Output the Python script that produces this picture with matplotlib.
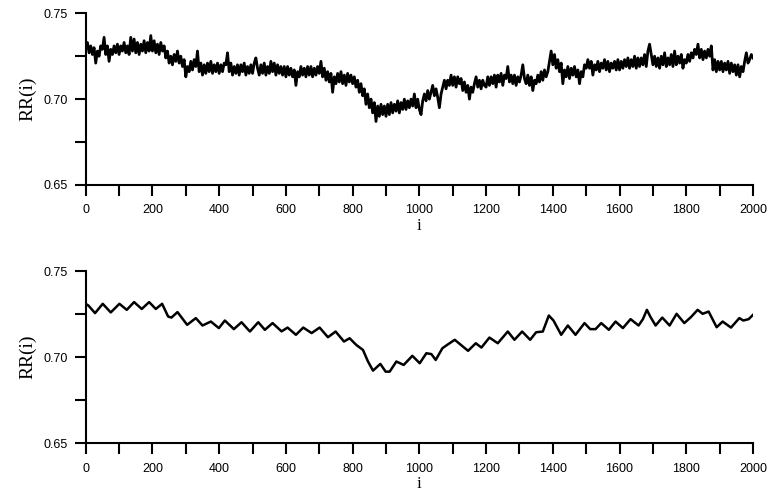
import matplotlib.pyplot as plt
from matplotlib.ticker import MultipleLocator

# Data: raw RR series read every 5 samples (top panel)
raw_rr = [
    0.731, 0.733, 0.727, 0.731, 0.726, 0.730, 0.721, 0.728, 0.725, 0.731,
    0.729, 0.736, 0.726, 0.731, 0.722, 0.729, 0.726, 0.731, 0.727, 0.732,
    0.726, 0.731, 0.728, 0.733, 0.727, 0.731, 0.726, 0.736, 0.728, 0.735,
    0.727, 0.733, 0.726, 0.732, 0.728, 0.734, 0.727, 0.733, 0.728, 0.737,
    0.728, 0.734, 0.727, 0.732, 0.726, 0.733, 0.728, 0.731, 0.724, 0.728,
    0.721, 0.725, 0.720, 0.726, 0.722, 0.728, 0.721, 0.725, 0.719, 0.723,
    0.713, 0.719, 0.716, 0.722, 0.717, 0.723, 0.719, 0.728, 0.716, 0.721,
    0.714, 0.720, 0.715, 0.721, 0.716, 0.722, 0.715, 0.720, 0.716, 0.721,
    0.715, 0.720, 0.716, 0.721, 0.720, 0.727, 0.716, 0.721, 0.714, 0.719,
    0.715, 0.720, 0.714, 0.720, 0.716, 0.721, 0.714, 0.719, 0.715, 0.720,
    0.715, 0.721, 0.724, 0.718, 0.714, 0.720, 0.715, 0.721, 0.714, 0.719,
    0.715, 0.722, 0.716, 0.721, 0.714, 0.720, 0.715, 0.719, 0.714, 0.719,
    0.713, 0.719, 0.714, 0.718, 0.713, 0.717, 0.708, 0.716, 0.713, 0.719,
    0.714, 0.718, 0.713, 0.719, 0.714, 0.719, 0.713, 0.718, 0.714, 0.719,
    0.715, 0.722, 0.713, 0.718, 0.711, 0.716, 0.710, 0.715, 0.704, 0.713,
    0.709, 0.715, 0.710, 0.716, 0.709, 0.714, 0.708, 0.715, 0.710, 0.714,
    0.709, 0.713, 0.707, 0.711, 0.704, 0.709, 0.702, 0.706, 0.697, 0.703,
    0.695, 0.700, 0.692, 0.698, 0.687, 0.696, 0.690, 0.697, 0.691, 0.696,
    0.690, 0.697, 0.691, 0.698, 0.692, 0.697, 0.693, 0.699, 0.692, 0.698,
    0.694, 0.700, 0.694, 0.699, 0.695, 0.700, 0.696, 0.703, 0.695, 0.700,
    0.694, 0.691, 0.699, 0.703, 0.699, 0.705, 0.700, 0.704, 0.708, 0.702,
    0.706, 0.701, 0.695, 0.703, 0.707, 0.711, 0.706, 0.711, 0.708, 0.714,
    0.708, 0.713, 0.707, 0.713, 0.709, 0.712, 0.705, 0.710, 0.704, 0.708,
    0.700, 0.707, 0.704, 0.709, 0.713, 0.707, 0.711, 0.706, 0.711, 0.708,
    0.707, 0.713, 0.708, 0.713, 0.709, 0.714, 0.707, 0.714, 0.710, 0.715,
    0.708, 0.714, 0.712, 0.719, 0.710, 0.714, 0.709, 0.714, 0.708, 0.713,
    0.710, 0.714, 0.720, 0.712, 0.709, 0.714, 0.708, 0.713, 0.705, 0.711,
    0.709, 0.714, 0.710, 0.716, 0.711, 0.717, 0.713, 0.716, 0.722, 0.728,
    0.720, 0.726, 0.718, 0.723, 0.716, 0.721, 0.709, 0.717, 0.713, 0.719,
    0.712, 0.718, 0.714, 0.719, 0.713, 0.717, 0.709, 0.716, 0.713, 0.720,
    0.718, 0.723, 0.718, 0.722, 0.714, 0.720, 0.717, 0.722, 0.716, 0.721,
    0.718, 0.723, 0.717, 0.722, 0.716, 0.721, 0.718, 0.722, 0.717, 0.723,
    0.717, 0.722, 0.718, 0.723, 0.719, 0.724, 0.718, 0.723, 0.719, 0.725,
    0.718, 0.724, 0.719, 0.724, 0.720, 0.726, 0.719, 0.728, 0.732, 0.726,
    0.720, 0.725, 0.719, 0.724, 0.718, 0.725, 0.720, 0.727, 0.719, 0.724,
    0.720, 0.726, 0.719, 0.728, 0.720, 0.725, 0.721, 0.726, 0.718, 0.723,
    0.721, 0.726, 0.722, 0.727, 0.724, 0.729, 0.726, 0.732, 0.724, 0.729,
    0.723, 0.728, 0.724, 0.729, 0.725, 0.731, 0.717, 0.723, 0.716, 0.722,
    0.717, 0.722, 0.716, 0.721, 0.717, 0.722, 0.715, 0.721, 0.716, 0.720,
    0.714, 0.720, 0.713, 0.719, 0.716, 0.722, 0.727, 0.721, 0.723, 0.726,
    0.724,
]
raw_i = list(range(0, 2001, 5))

# Smoothed RR series (bottom panel), read at its turning points
smooth_i = [0, 8, 28, 51, 75, 101, 123, 145, 168, 190, 210, 229, 247, 257, 275,
            304, 330, 350, 375, 399, 417, 444, 467, 492, 517, 537, 560, 587,
            605, 630, 652, 677, 701, 726, 749, 774, 791, 811, 831, 846, 861,
            883, 899, 911, 931, 953, 979, 1001, 1021, 1036, 1049, 1069, 1083,
            1106, 1146, 1169, 1186, 1210, 1235, 1265, 1285, 1308, 1332, 1350,
            1370, 1388, 1402, 1425, 1445, 1468, 1495, 1512, 1528, 1545, 1568,
            1588, 1610, 1633, 1657, 1670, 1682, 1692, 1708, 1728, 1750, 1771,
            1794, 1814, 1834, 1849, 1867, 1891, 1909, 1934, 1959, 1971, 1987,
            2000]
smooth_rr = [0.731, 0.730, 0.7256, 0.731, 0.726, 0.731, 0.7275, 0.732, 0.728,
             0.732, 0.728, 0.731, 0.7236, 0.7230, 0.7262, 0.7188, 0.7227,
             0.7184, 0.7207, 0.7169, 0.7213, 0.7163, 0.7203, 0.7149, 0.7203,
             0.7159, 0.7198, 0.7150, 0.7172, 0.7130, 0.7172, 0.7140, 0.7172,
             0.7116, 0.7149, 0.7091, 0.7110, 0.7071, 0.7042, 0.6975, 0.6922,
             0.6961, 0.6916, 0.6916, 0.6975, 0.6955, 0.7008, 0.6965, 0.7023,
             0.7018, 0.6984, 0.7052, 0.7071, 0.7101, 0.7037, 0.7081, 0.7056,
             0.7114, 0.7081, 0.7149, 0.7101, 0.7149, 0.7101, 0.7145, 0.7149,
             0.7242, 0.7213, 0.7130, 0.7184, 0.7130, 0.7198, 0.7163, 0.7163,
             0.7198, 0.7159, 0.7207, 0.7169, 0.7221, 0.7184, 0.7221, 0.7275,
             0.7236, 0.7184, 0.7230, 0.7184, 0.7252, 0.7198, 0.7233, 0.7275,
             0.7252, 0.7265, 0.7174, 0.7207, 0.7172, 0.7227, 0.7213, 0.7221,
             0.7246]

fig = plt.figure(figsize=(7.8, 4.92), dpi=100)
ax1 = fig.add_axes([0.1099, 0.624, 0.8555, 0.349])
ax2 = fig.add_axes([0.1099, 0.099, 0.8555, 0.350])

ax1.plot(raw_i, raw_rr, color='black', lw=2.0)
ax2.plot(smooth_i, smooth_rr, color='black', lw=1.8)

for ax in (ax1, ax2):
    ax.set_xlim(0, 2000)
    ax.set_ylim(0.65, 0.75)
    ax.spines['top'].set_visible(False)
    ax.spines['right'].set_visible(False)
    ax.spines['left'].set_linewidth(1.5)
    ax.spines['bottom'].set_linewidth(1.5)
    ax.xaxis.set_major_locator(MultipleLocator(200))
    ax.xaxis.set_minor_locator(MultipleLocator(100))
    ax.yaxis.set_major_locator(MultipleLocator(0.05))
    ax.yaxis.set_minor_locator(MultipleLocator(0.025))
    ax.yaxis.set_major_formatter(plt.FormatStrFormatter('%.2f'))
    ax.tick_params(which='both', direction='out', length=8, width=1.5)
    ax.tick_params(axis='x', labelsize=9, pad=6)
    ax.tick_params(axis='y', labelsize=9, pad=5)
    for lab in ax.get_xticklabels() + ax.get_yticklabels():
        lab.set_family('Liberation Sans')
    ax.set_ylabel('RR(i)', family='Liberation Serif', fontsize=14, labelpad=5)
    ax.set_xlabel('i', family='Liberation Serif', fontsize=12, labelpad=1)

plt.savefig('out.png', dpi=100)
